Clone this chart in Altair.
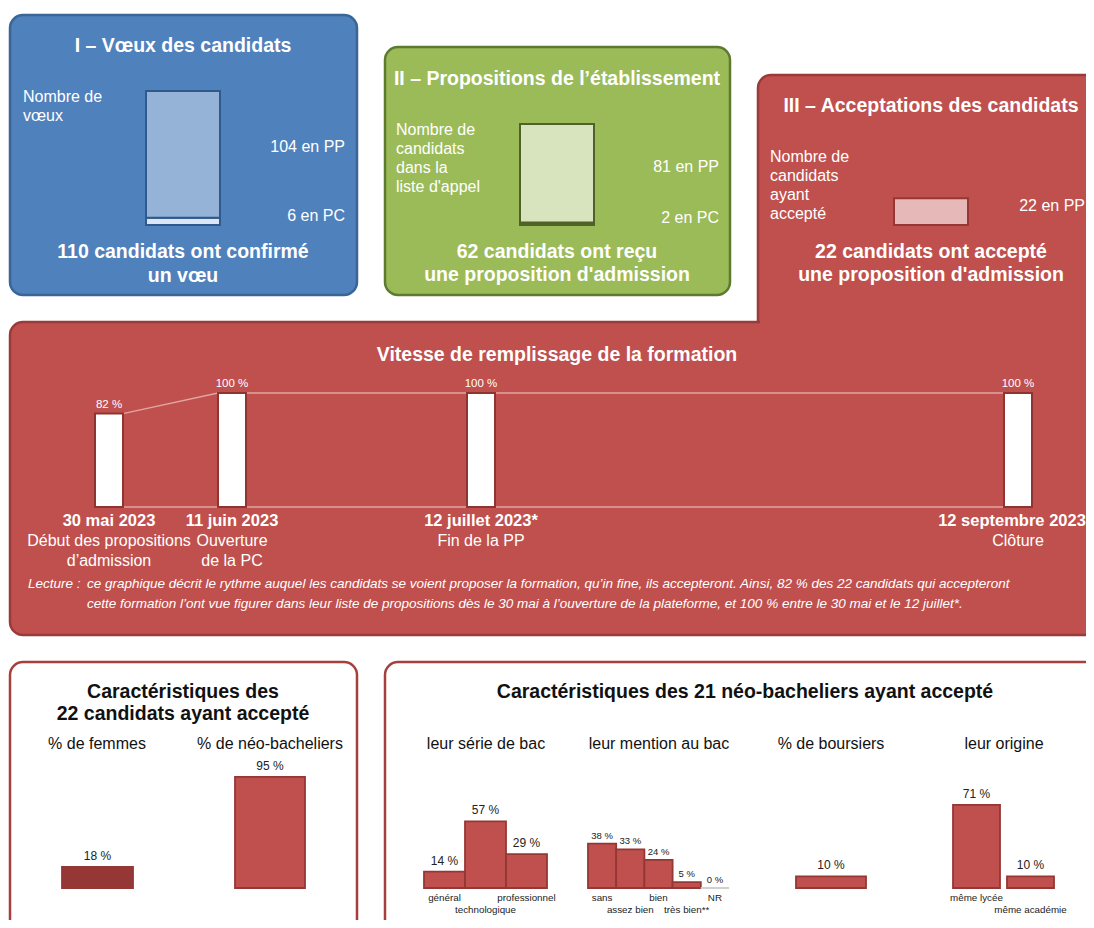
import altair as alt
import pandas as pd

# ---------------- data ----------------
STEPS = ["I", "II", "III"]
STEP_PP = [104, 81, 22]
STEP_PC = [6, 2, 0]

FILL_DATES = ["30 mai 2023", "11 juin 2023", "12 juillet 2023*", "12 septembre 2023"]
FILL_EVENTS = [["Début des propositions", "d’admission"], ["Ouverture", "de la PC"], ["Fin de la PP"], ["Clôture"]]
FILL_PCT = [82, 100, 100, 100]

GEN_CATS = ["% de femmes", "% de néo-bacheliers"]
GEN_PCT = [18, 95]

SERIE_CATS = ["général", "technologique", "professionnel"]
SERIE_PCT = [14, 57, 29]

MENTION_CATS = ["sans", "assez bien", "bien", "très bien**", "NR"]
MENTION_PCT = [38, 33, 24, 5, 0]

BOURSIERS_PCT = [10]

ORIGINE_CATS = ["même lycée", "même académie"]
ORIGINE_PCT = [71, 10]

# ---------------- layout ----------------
FONT = "Liberation Sans"
W, H = 1078, 912
M = 8

RED = "#C0504D"
RED_DARK = "#9B3B39"
WHITE = "#FFFFFF"
INK = "#111111"
TITLE_SIZE = 19.5


def px_x():
    return alt.Scale(domain=[M, M + W], range=[0, W], zero=False, nice=False)


def px_y():
    return alt.Scale(domain=[M, M + H], range=[0, H], zero=False, nice=False)


def val_y(base, top, vmax):
    return alt.Scale(domain=[0, vmax], range=[base - M, top - M], zero=False, nice=False)


layers = []

# panel boxes
PANELS = [
    (10, 357, 15, 295, "#4F81BD", "#3A6596"),
    (385, 730, 47, 295, "#9BBB59", "#5E7A30"),
    (758, 1120, 75, 335, RED, RED_DARK),
    (10, 1120, 322, 635, RED, RED_DARK),
    (10, 357, 662, 980, WHITE, "#A5403D"),
    (385, 1120, 662, 980, WHITE, "#A5403D"),
]
df_pan = pd.DataFrame(PANELS, columns=["x0", "x1", "y0", "y1", "fill", "stroke"])
layers.append(
    alt.Chart(df_pan).mark_rect(cornerRadius=13, strokeWidth=2.5).encode(
        x=alt.X("x0:Q", scale=px_x(), axis=None), x2="x1:Q",
        y=alt.Y("y0:Q", scale=px_y(), axis=None), y2="y1:Q",
        fill=alt.Fill("fill:N", scale=None), stroke=alt.Stroke("stroke:N", scale=None),
    )
)
# merge patch between panel III and the filling panel
df_patch = pd.DataFrame([(760, 1120, 300, 332)], columns=["x0", "x1", "y0", "y1"])
layers.append(
    alt.Chart(df_patch).mark_rect(fill=RED, strokeWidth=0).encode(
        x=alt.X("x0:Q", scale=px_x(), axis=None), x2="x1:Q",
        y=alt.Y("y0:Q", scale=px_y(), axis=None), y2="y1:Q",
    )
)

# ---- stacked bars of the three steps (common scale) ----
SEG_FILL = {("I", "PP"): "#95B3D7", ("I", "PC"): "#DCE6F2",
            ("II", "PP"): "#D7E4BD", ("II", "PC"): "#4F6228",
            ("III", "PP"): "#E6B9B8"}
STEP_STROKE = {"I": "#2F5A8C", "II": "#4F6228", "III": "#953735"}
rows = []
for s, pp, pc in zip(STEPS, STEP_PP, STEP_PC):
    if pc:
        rows.append(dict(step=s, y0=0, y1=pc, fill=SEG_FILL[(s, "PC")], stroke=STEP_STROKE[s]))
    rows.append(dict(step=s, y0=pc, y1=pc + pp, fill=SEG_FILL[(s, "PP")], stroke=STEP_STROKE[s]))
df_steps = pd.DataFrame(rows)
layers.append(
    alt.Chart(df_steps).mark_rect(strokeWidth=2).encode(
        x=alt.X("step:N", axis=None,
                scale=alt.Scale(type="band", domain=STEPS, range=[146 - M, 968 - M],
                                paddingInner=300 / 374, paddingOuter=0)),
        y=alt.Y("y0:Q", scale=val_y(225, 91, 110), axis=None), y2="y1:Q",
        fill=alt.Fill("fill:N", scale=None), stroke=alt.Stroke("stroke:N", scale=None),
    )
)

# ---- filling speed ----
FILL_X = [109, 232, 481, 1018]
BW = 28
df_fill = pd.DataFrame({"date": FILL_DATES, "pct": FILL_PCT, "cx": FILL_X})
df_fill["x0"] = df_fill["cx"] - BW / 2
df_fill["x1"] = df_fill["cx"] + BW / 2
df_fill["zero"] = 0
df_fill["lab"] = [f"{v} %" for v in FILL_PCT]
fy = val_y(507, 393, 100)

conn = []
for i in range(len(FILL_X) - 1):
    conn.append(dict(xa=FILL_X[i] + BW / 2, xb=FILL_X[i + 1] - BW / 2, ya=FILL_PCT[i], yb=FILL_PCT[i + 1]))
    conn.append(dict(xa=FILL_X[i] + BW / 2, xb=FILL_X[i + 1] - BW / 2, ya=0, yb=0))
df_conn = pd.DataFrame(conn)
layers.append(
    alt.Chart(df_conn).mark_rule(color="#E8B4B2", strokeWidth=1.3, opacity=0.85).encode(
        x=alt.X("xa:Q", scale=px_x(), axis=None), x2="xb:Q",
        y=alt.Y("ya:Q", scale=fy, axis=None), y2="yb:Q",
    )
)
layers.append(
    alt.Chart(df_fill).mark_rect(fill=WHITE, stroke="#8E3431", strokeWidth=2).encode(
        x=alt.X("x0:Q", scale=px_x(), axis=None), x2="x1:Q",
        y=alt.Y("zero:Q", scale=fy, axis=None), y2="pct:Q",
    )
)
layers.append(
    alt.Chart(df_fill).mark_text(font=FONT, fontSize=11.5, color=WHITE, baseline="bottom", dy=-4).encode(
        x=alt.X("cx:Q", scale=px_x(), axis=None),
        y=alt.Y("pct:Q", scale=fy, axis=None), text="lab:N",
    )
)

# ---- bottom bars (common % scale) ----
by = val_y(888, 771, 100)
bars = []


def add_group(pcts, lefts, width, fill=RED, stroke="#953735", small=False):
    for v, l in zip(pcts, lefts):
        bars.append(dict(x0=l, x1=l + width, cx=l + width / 2, pct=v, zero=0, lab=f"{v} %",
                         fill=fill, stroke=stroke if v > 0 else "#D0D0D0", small=small))


add_group(GEN_PCT[:1], [62], 71, fill="#953735", stroke="#953735")
add_group(GEN_PCT[1:], [235], 70)
add_group(SERIE_PCT, [424, 465, 506], 41)
add_group(MENTION_PCT, [588, 616.2, 644.4, 672.6, 700.8], 28.2, small=True)
add_group(BOURSIERS_PCT, [796], 70)
add_group(ORIGINE_PCT, [953, 1007], 47)
df_bars = pd.DataFrame(bars)
layers.append(
    alt.Chart(df_bars).mark_rect(strokeWidth=1.8).encode(
        x=alt.X("x0:Q", scale=px_x(), axis=None), x2="x1:Q",
        y=alt.Y("zero:Q", scale=by, axis=None), y2="pct:Q",
        fill=alt.Fill("fill:N", scale=None), stroke=alt.Stroke("stroke:N", scale=None),
    )
)
for small, fs, dy in [(False, 12, -4), (True, 9.5, -3)]:
    layers.append(
        alt.Chart(df_bars[df_bars["small"] == small]).mark_text(
            font=FONT, fontSize=fs, color="#222222", baseline="bottom", dy=dy).encode(
            x=alt.X("cx:Q", scale=px_x(), axis=None),
            y=alt.Y("pct:Q", scale=by, axis=None), text="lab:N",
        )
    )


# ---------------- texts ----------------
def texts(rows, color, size, weight="normal", align="center", style="normal"):
    df = pd.DataFrame(rows, columns=["x", "y", "t"])
    return alt.Chart(df).mark_text(
        font=FONT, fontSize=size, fontWeight=weight, align=align, fontStyle=style,
        color=color, baseline="middle").encode(
        x=alt.X("x:Q", scale=px_x(), axis=None),
        y=alt.Y("y:Q", scale=px_y(), axis=None), text="t:N")


# bold white titles
layers.append(texts([
    (183, 46, "I – Vœux des candidats"),
    (557, 79, "II – Propositions de l’établissement"),
    (931, 106, "III – Acceptations des candidats"),
    (183, 252, f"{STEP_PP[0] + STEP_PC[0]} candidats ont confirmé"),
    (183, 276, "un vœu"),
    (557, 252, "62 candidats ont reçu"),
    (557, 275, "une proposition d'admission"),
    (931, 252, f"{STEP_PP[2] + STEP_PC[2]} candidats ont accepté"),
    (931, 275, "une proposition d'admission"),
    (557, 355, "Vitesse de remplissage de la formation"),
], WHITE, TITLE_SIZE, weight="bold"))

# left aligned white notes
layers.append(texts([
    (23, 97, "Nombre de"), (23, 116, "vœux"),
    (396, 130, "Nombre de"), (396, 149, "candidats"), (396, 168, "dans la"), (396, 187, "liste d'appel"),
    (770, 157, "Nombre de"), (770, 176, "candidats"), (770, 195, "ayant"), (770, 214, "accepté"),
], WHITE, 16, align="left"))

# right aligned step values
layers.append(texts([
    (345, 147, f"{STEP_PP[0]} en PP"), (345, 216, f"{STEP_PC[0]} en PC"),
    (719, 167, f"{STEP_PP[1]} en PP"), (719, 218, f"{STEP_PC[1]} en PC"),
    (1085, 206, f"{STEP_PP[2]} en PP"),
], WHITE, 16, align="right"))

# dates and events
DATE_X = FILL_X[:-1] + [1012]
layers.append(texts([(x, 521, d) for x, d in zip(DATE_X, FILL_DATES)], WHITE, 16.5, weight="bold"))
ev_rows = []
for x, ev in zip(FILL_X, FILL_EVENTS):
    for k, line in enumerate(ev):
        ev_rows.append((x, 541 + 20 * k, line))
layers.append(texts(ev_rows, WHITE, 16))

# reading note
NOTE_SIZE = 13.5
layers.append(texts([(28, 584, "Lecture :")], WHITE, NOTE_SIZE, align="left", style="italic"))
layers.append(texts([
    (87, 584, "ce graphique décrit le rythme auquel les candidats se voient proposer la formation, qu’in fine, ils accepteront.  Ainsi, 82 % des 22 candidats qui accepteront"),
    (87, 604, "cette formation l’ont vue figurer dans leur liste de propositions dès le 30 mai à l’ouverture de la plateforme, et 100 % entre le 30 mai et le 12 juillet*."),
], WHITE, NOTE_SIZE, align="left", style="italic"))

# bottom titles
layers.append(texts([
    (183, 692, "Caractéristiques des"),
    (183, 714, "22 candidats ayant accepté"),
    (745, 692, "Caractéristiques des 21 néo-bacheliers ayant accepté"),
], INK, TITLE_SIZE, weight="bold"))
layers.append(texts([
    (97, 744, GEN_CATS[0]), (270, 744, GEN_CATS[1]),
    (486, 744, "leur série de bac"), (659, 744, "leur mention au bac"),
    (831, 744, "% de boursiers"), (1004, 744, "leur origine"),
], INK, 16))

# category labels (alternating rows)
cat_rows = []
for cats, lefts, w in [(SERIE_CATS, [424, 465, 506], 41),
                       (MENTION_CATS, [588, 616.2, 644.4, 672.6, 700.8], 28.2),
                       (ORIGINE_CATS, [953, 1007], 47)]:
    for k, (c, l) in enumerate(zip(cats, lefts)):
        cat_rows.append((l + w / 2, 898 if k % 2 == 0 else 910, c))
layers.append(texts(cat_rows, "#222222", 9.8))

chart = (
    alt.layer(*layers)
    .resolve_scale(x="independent", y="independent")
    .properties(width=W, height=H, autosize=alt.AutoSizeParams(type="none"), padding=0, background=WHITE)
    .configure_view(strokeWidth=0)
)

chart.save("out.html", embed_options={"renderer": "svg", "actions": False})
